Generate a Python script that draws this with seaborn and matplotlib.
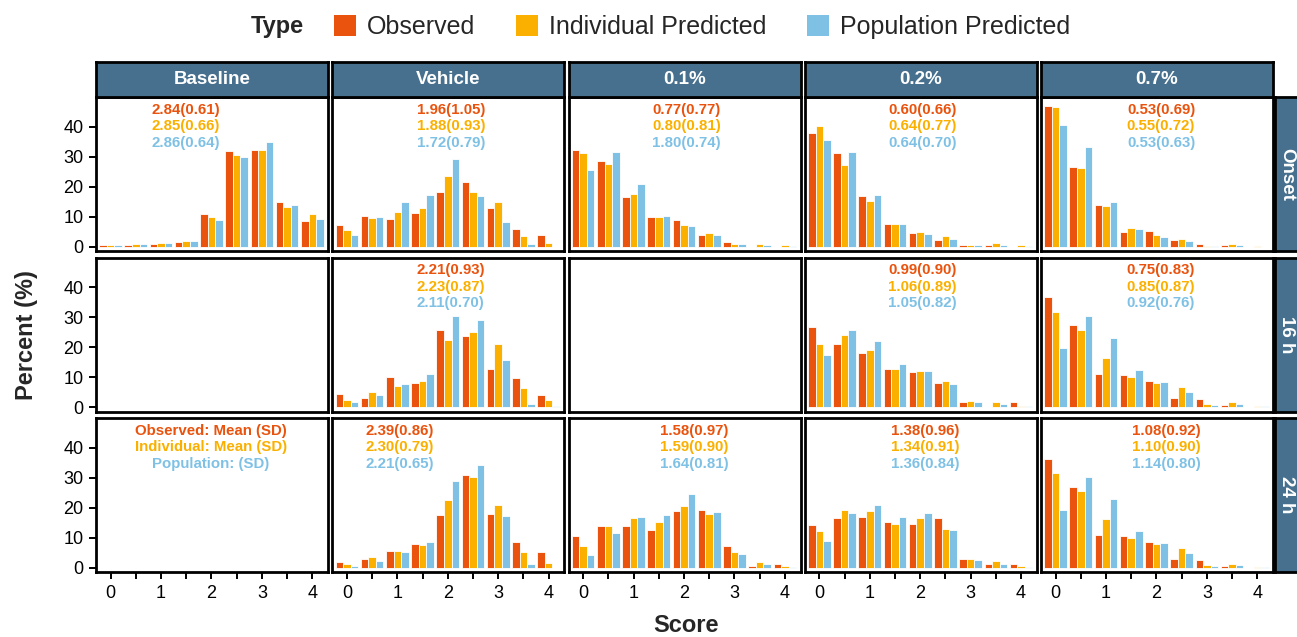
import numpy as np
import pandas as pd
import matplotlib
matplotlib.use("Agg")
import matplotlib.pyplot as plt
import seaborn as sns
from matplotlib.patches import Patch

# ---------------- data ----------------
scores = [0, 0.5, 1, 1.5, 2, 2.5, 3, 3.5, 4]
types = ["Observed", "Individual Predicted", "Population Predicted"]
columns = ["Baseline", "Vehicle", "0.1%", "0.2%", "0.7%"]
rows = ["Onset", "16 h", "24 h"]

onset_baseline_obs = [0.6, 0.4, 0.8, 1.4, 10.8, 31.8, 32.1, 14.8, 8.4]
onset_baseline_ind = [0.4, 0.8, 1.1, 1.9, 9.9, 30.4, 32.1, 13.2, 10.8]
onset_baseline_pop = [0.4, 0.8, 1.1, 1.9, 8.8, 30.0, 34.9, 14.0, 9.2]

onset_vehicle_obs = [7.2, 10.3, 9.1, 11.1, 18.3, 21.6, 12.8, 6.0, 3.9]
onset_vehicle_ind = [5.6, 9.6, 11.6, 12.9, 23.6, 18.3, 14.8, 3.7, 1.1]
onset_vehicle_pop = [4.0, 9.9, 14.8, 17.1, 29.2, 16.9, 8.3, 0.8, 0.0]

onset_01_obs = [32.1, 28.6, 16.4, 10.0, 8.8, 4.0, 1.4, 0.0, 0.0]
onset_01_ind = [31.3, 27.7, 17.7, 10.0, 7.1, 4.7, 1.0, 1.0, 0.4]
onset_01_pop = [25.7, 31.7, 20.8, 10.3, 6.8, 4.0, 1.0, 0.7, 0.3]

onset_02_obs = [37.8, 31.3, 16.8, 7.6, 4.7, 2.3, 0.4, 0.4, 0.0]
onset_02_ind = [40.1, 27.2, 15.1, 7.6, 5.0, 3.4, 0.7, 1.1, 0.4]
onset_02_pop = [35.7, 31.7, 17.1, 7.6, 4.3, 2.7, 0.7, 0.7, 0.3]

onset_07_obs = [47.0, 26.4, 14.0, 4.8, 5.1, 2.3, 0.8, 0.4, 0.0]
onset_07_ind = [46.7, 26.1, 13.7, 6.3, 4.0, 2.7, 0.3, 0.8, 0.3]
onset_07_pop = [40.6, 33.2, 14.8, 6.0, 3.2, 1.9, 0.3, 0.4, 0.0]

h16_vehicle_obs = [4.3, 3.1, 10.0, 8.0, 25.7, 23.7, 12.8, 9.6, 4.0]
h16_vehicle_ind = [2.3, 5.2, 7.1, 8.8, 22.4, 25.2, 20.9, 6.3, 2.3]
h16_vehicle_pop = [1.6, 3.9, 7.6, 11.2, 30.4, 29.2, 15.6, 1.1, 0.3]

h16_02_obs = [26.6, 20.9, 18.1, 12.8, 11.7, 8.0, 1.6, 0.0, 1.6]
h16_02_ind = [20.9, 24.1, 19.2, 12.8, 12.0, 8.8, 2.0, 1.6, 0.3]
h16_02_pop = [17.3, 25.7, 22.0, 14.4, 12.0, 7.6, 1.6, 1.1, 0.3]

h16_07_obs = [36.6, 27.3, 11.2, 10.8, 8.8, 3.1, 2.8, 0.8, 0.0]
h16_07_ind = [31.7, 25.7, 16.4, 10.0, 8.0, 6.8, 1.1, 1.6, 0.3]
h16_07_pop = [19.7, 30.4, 23.2, 12.4, 8.3, 5.1, 0.8, 1.1, 0.3]

h24_vehicle_obs = [2.0, 2.8, 5.7, 8.0, 17.7, 30.9, 18.0, 8.4, 5.2]
h24_vehicle_ind = [1.2, 3.6, 5.7, 7.7, 22.4, 30.1, 20.9, 5.2, 1.7]
h24_vehicle_pop = [0.7, 2.3, 5.2, 8.4, 28.9, 34.1, 17.2, 1.1, 0.0]

h24_01_obs = [10.4, 14.0, 14.0, 12.4, 18.9, 19.2, 7.2, 0.7, 1.2]
h24_01_ind = [7.1, 14.0, 16.4, 15.2, 20.4, 18.0, 5.2, 2.0, 0.4]
h24_01_pop = [4.3, 11.7, 16.9, 17.7, 24.4, 18.4, 4.4, 1.1, 0.1]

h24_02_obs = [14.2, 16.6, 17.0, 15.3, 14.6, 16.6, 2.8, 1.3, 1.3]
h24_02_ind = [12.1, 19.3, 18.9, 14.6, 16.6, 12.9, 2.8, 2.1, 0.6]
h24_02_pop = [9.0, 18.2, 21.0, 17.0, 18.2, 12.6, 2.4, 1.3, 0.1]

h24_07_obs = [36.3, 27.0, 11.0, 10.6, 8.6, 2.9, 2.4, 0.6, 0.0]
h24_07_ind = [31.4, 25.4, 16.1, 9.8, 7.8, 6.4, 0.9, 1.3, 0.2]
h24_07_pop = [19.3, 30.2, 23.0, 12.2, 8.2, 5.0, 0.6, 1.0, 0.2]

panel_series = {
    ("Onset", "Baseline"): (onset_baseline_obs, onset_baseline_ind, onset_baseline_pop),
    ("Onset", "Vehicle"): (onset_vehicle_obs, onset_vehicle_ind, onset_vehicle_pop),
    ("Onset", "0.1%"): (onset_01_obs, onset_01_ind, onset_01_pop),
    ("Onset", "0.2%"): (onset_02_obs, onset_02_ind, onset_02_pop),
    ("Onset", "0.7%"): (onset_07_obs, onset_07_ind, onset_07_pop),
    ("16 h", "Vehicle"): (h16_vehicle_obs, h16_vehicle_ind, h16_vehicle_pop),
    ("16 h", "0.2%"): (h16_02_obs, h16_02_ind, h16_02_pop),
    ("16 h", "0.7%"): (h16_07_obs, h16_07_ind, h16_07_pop),
    ("24 h", "Vehicle"): (h24_vehicle_obs, h24_vehicle_ind, h24_vehicle_pop),
    ("24 h", "0.1%"): (h24_01_obs, h24_01_ind, h24_01_pop),
    ("24 h", "0.2%"): (h24_02_obs, h24_02_ind, h24_02_pop),
    ("24 h", "0.7%"): (h24_07_obs, h24_07_ind, h24_07_pop),
}

panel_stats = {
    ("Onset", "Baseline"): ["2.84(0.61)", "2.85(0.66)", "2.86(0.64)"],
    ("Onset", "Vehicle"): ["1.96(1.05)", "1.88(0.93)", "1.72(0.79)"],
    ("Onset", "0.1%"): ["0.77(0.77)", "0.80(0.81)", "1.80(0.74)"],
    ("Onset", "0.2%"): ["0.60(0.66)", "0.64(0.77)", "0.64(0.70)"],
    ("Onset", "0.7%"): ["0.53(0.69)", "0.55(0.72)", "0.53(0.63)"],
    ("16 h", "Vehicle"): ["2.21(0.93)", "2.23(0.87)", "2.11(0.70)"],
    ("16 h", "0.2%"): ["0.99(0.90)", "1.06(0.89)", "1.05(0.82)"],
    ("16 h", "0.7%"): ["0.75(0.83)", "0.85(0.87)", "0.92(0.76)"],
    ("24 h", "Baseline"): ["Observed: Mean (SD)", "Individual: Mean (SD)", "Population: (SD)"],
    ("24 h", "Vehicle"): ["2.39(0.86)", "2.30(0.79)", "2.21(0.65)"],
    ("24 h", "0.1%"): ["1.58(0.97)", "1.59(0.90)", "1.64(0.81)"],
    ("24 h", "0.2%"): ["1.38(0.96)", "1.34(0.91)", "1.36(0.84)"],
    ("24 h", "0.7%"): ["1.08(0.92)", "1.10(0.90)", "1.14(0.80)"],
}

# text anchor x (data units) per panel -- layout only
stats_x = {
    ("Onset", "Baseline"): 1.49, ("Onset", "Vehicle"): 2.07, ("Onset", "0.1%"): 2.05,
    ("Onset", "0.2%"): 2.04, ("Onset", "0.7%"): 2.09,
    ("16 h", "Vehicle"): 2.06, ("16 h", "0.2%"): 2.04, ("16 h", "0.7%"): 2.09,
    ("24 h", "Baseline"): 1.99, ("24 h", "Vehicle"): 1.05, ("24 h", "0.1%"): 2.2,
    ("24 h", "0.2%"): 2.09, ("24 h", "0.7%"): 2.19,
}

records = []
for (r, c), series in panel_series.items():
    for t, vals in zip(types, series):
        for s, v in zip(scores, vals):
            records.append({"Time": r, "Treatment": c, "Score": s, "Type": t, "Percent": v})
df = pd.DataFrame(records)

# ---------------- style ----------------
palette = {"Observed": "#E9530E", "Individual Predicted": "#FBB000", "Population Predicted": "#7EC1E5"}
strip_color = "#47708E"

sns.set_style("white")
plt.rcParams["font.family"] = ["Liberation Sans", "DejaVu Sans"]

W, H = 1297, 637
fig = plt.figure(figsize=(W / 100, H / 100), dpi=100)

col_x = [96 + i * 236.25 for i in range(5)]
col_w = 232
row_top = [97, 257.5, 418]
row_h = 154

def fr(x0, y0, w, h):
    return [x0 / W, 1 - (y0 + h) / H, w / W, h / H]

for ri, r in enumerate(rows):
    for ci, c in enumerate(columns):
        ax = fig.add_axes(fr(col_x[ci], row_top[ri], col_w, row_h))
        sub = df[(df["Time"] == r) & (df["Treatment"] == c)]
        if len(sub):
            sns.barplot(data=sub, x="Score", y="Percent", hue="Type", hue_order=types,
                        palette=palette, native_scale=True, width=0.9, errorbar=None,
                        saturation=1, edgecolor="white", linewidth=0.6, legend=False, ax=ax)
        ax.set_xlim(-0.29, 4.31)
        ax.set_ylim(-1.45, 49.9)
        ax.set_xlabel("")
        ax.set_ylabel("")
        ax.set_xticks(scores)
        ax.set_yticks([0, 10, 20, 30, 40])
        ax.set_facecolor("white")
        for sp in ax.spines.values():
            sp.set_visible(True)
            sp.set_color("black")
            sp.set_linewidth(2.0)
        ax.tick_params(axis="both", direction="out", length=5, width=1.4, color="black",
                       labelsize=13, labelcolor="black", pad=4)
        if ri == 2:
            ax.set_xticklabels([("%d" % s if float(s).is_integer() else "") for s in scores])
            ax.tick_params(axis="x", bottom=True)
        else:
            ax.tick_params(axis="x", bottom=False, labelbottom=False)
        if ci == 0:
            ax.tick_params(axis="y", left=True)
        else:
            ax.tick_params(axis="y", left=False, labelleft=False)

        key = (r, c)
        if key in panel_stats:
            for li, (txt, t) in enumerate(zip(panel_stats[key], types)):
                ax.text(stats_x[key], 1 - (13 + 16.3 * li) / row_h, txt,
                        transform=ax.get_xaxis_transform(), ha="center", va="center",
                        fontsize=10.8, fontweight="bold", color=palette[t])

# column strips
for ci, c in enumerate(columns):
    sax = fig.add_axes(fr(col_x[ci], 62, col_w, 35))
    sax.set_facecolor(strip_color)
    sax.set_xticks([]); sax.set_yticks([])
    for sp in sax.spines.values():
        sp.set_color("black"); sp.set_linewidth(2.0)
    sax.text(0.5, 0.5, c, transform=sax.transAxes, ha="center", va="center",
             color="white", fontsize=13.5, fontweight="bold")

# row strips (extend past the right edge)
for ri, r in enumerate(rows):
    sax = fig.add_axes(fr(1275, row_top[ri], 36, row_h))
    sax.set_facecolor(strip_color)
    sax.set_xticks([]); sax.set_yticks([])
    for sp in sax.spines.values():
        sp.set_color("black"); sp.set_linewidth(2.0)
    fig.text(1287 / W, 1 - (row_top[ri] + row_h / 2) / H, r, ha="center", va="center",
             color="white", fontsize=13.5, fontweight="bold", rotation=-90)

# axis titles
fig.text(686 / W, 1 - 625 / H, "Score", ha="center", va="center", fontsize=17, fontweight="bold")
fig.text(27 / W, 1 - 335 / H, "Percent (%)", ha="center", va="center", fontsize=17,
         fontweight="bold", rotation=90)

# legend
fig.text(277 / W, 1 - 26 / H, "Type", ha="center", va="center", fontsize=17, fontweight="bold")
handles = [Patch(facecolor=palette[t], edgecolor="none") for t in types]
fig.legend(handles, types, loc="center", bbox_to_anchor=(702 / W, 1 - 27 / H), ncol=3,
           frameon=False, fontsize=18, handlelength=0.9, handleheight=0.9,
           handletextpad=0.45, columnspacing=1.6, borderaxespad=0, borderpad=0)

fig.savefig("out.png", dpi=100)
